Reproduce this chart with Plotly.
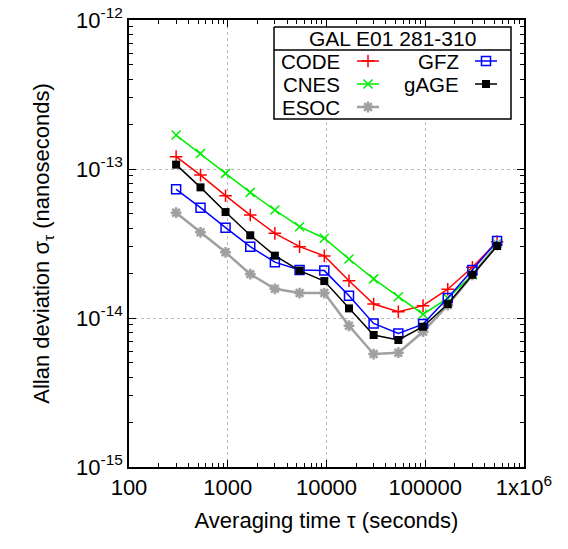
import plotly.graph_objects as go

# ---- data ----
tau = [300, 530, 950, 1690, 3000, 5340, 9500, 16900, 30000, 53400, 95000, 169000, 300000, 534000]
code = [1.21e-13, 9.1e-14, 6.62e-14, 4.91e-14, 3.7e-14, 3.01e-14, 2.61e-14, 1.78e-14, 1.24e-14, 1.10e-14, 1.21e-14, 1.56e-14, 2.19e-14, 3.25e-14]
cnes = [1.69e-13, 1.27e-13, 9.35e-14, 6.97e-14, 5.3e-14, 4.1e-14, 3.43e-14, 2.49e-14, 1.83e-14, 1.39e-14, 1.06e-14, 1.36e-14, 1.95e-14, 3.16e-14]
esoc = [5.09e-14, 3.76e-14, 2.76e-14, 1.97e-14, 1.57e-14, 1.47e-14, 1.47e-14, 8.87e-15, 5.73e-15, 5.85e-15, 8.09e-15, 1.22e-14, 1.95e-14, 3.10e-14]
gfz = [7.31e-14, 5.5e-14, 4.04e-14, 3.01e-14, 2.37e-14, 2.1e-14, 2.08e-14, 1.41e-14, 9.2e-15, 7.88e-15, 9.1e-15, 1.36e-14, 2.1e-14, 3.29e-14]
gage = [1.07e-13, 7.53e-14, 5.14e-14, 3.59e-14, 2.62e-14, 2.08e-14, 1.77e-14, 1.16e-14, 7.69e-15, 7.12e-15, 8.74e-15, 1.24e-14, 1.95e-14, 3.04e-14]

series_names = ["CODE", "CNES", "ESOC", "GFZ", "gAGE"]
series_values = [code, cnes, esoc, gfz, gage]

x_tick_vals = [100, 1000, 10000, 100000, 1000000]
x_tick_text = ["100", "1000", "10000", "100000", "1x10<sup>6</sup>"]
y_tick_vals = [1e-15, 1e-14, 1e-13, 1e-12]
y_tick_text = ["10<sup>-15</sup>", "10<sup>-14</sup>", "10<sup>-13</sup>", "10<sup>-12</sup>"]
legend_title = "GAL E01 281-310"

# ---- styles ----
styles = {
    "CODE": dict(color="#ff0000", symbol="cross-thin", size=9, lw=1.5, mlw=1.5),
    "CNES": dict(color="#00ee00", symbol="x-thin", size=9, lw=1.5, mlw=1.5),
    "ESOC": dict(color="#a0a0a0", symbol="asterisk-open", size=9, lw=2.5, mlw=2.5),
    "GFZ": dict(color="#0000ff", symbol="square-open", size=9, lw=1.5, mlw=1.5),
    "gAGE": dict(color="#000000", symbol="square", size=8, lw=1.5, mlw=0),
}

FONT = "Liberation Sans, Arial, Helvetica, sans-serif"
FS = 22
FS_LEG = 20.5
FS_LEG_TITLE = 21
W, H = 568, 549
L, R, T, B = 129, 44, 20, 82

fig = go.Figure()
for name, vals in zip(series_names, series_values):
    s = styles[name]
    fig.add_trace(go.Scatter(
        x=tau, y=vals, mode="lines+markers", name=name, showlegend=False,
        line=dict(color=s["color"], width=s["lw"]),
        marker=dict(symbol=s["symbol"], size=s["size"], color=s["color"],
                    line=dict(color=s["color"], width=s["mlw"])),
    ))

minor_x = [m * 10 ** e for e in range(2, 6) for m in range(2, 10)]
minor_y = [m * 10.0 ** e for e in range(-15, -12) for m in range(2, 10)]

axis_common = dict(
    type="log", showline=True, linecolor="#000000", linewidth=1.5, mirror="allticks",
    ticks="inside", ticklen=7, tickcolor="#000000", tickwidth=1,
    showgrid=True, gridcolor="#bbbbbb", griddash="dot", gridwidth=1,
    zeroline=False, tickfont=dict(family=FONT, size=FS, color="#000000"),
)

fig.update_xaxes(
    **axis_common, range=[2, 6], tickvals=x_tick_vals, ticktext=x_tick_text,
    minor=dict(tickvals=minor_x, ticks="inside", ticklen=4, tickcolor="#000000", showgrid=False),
    title=dict(text="Averaging time τ (seconds)", font=dict(family=FONT, size=FS, color="#000000"), standoff=13),
)
fig.update_yaxes(
    **axis_common, range=[-15, -12], tickvals=y_tick_vals, ticktext=y_tick_text,
    minor=dict(tickvals=minor_y, ticks="inside", ticklen=4, tickcolor="#000000", showgrid=False),
    title=dict(text="Allan deviation σ<sub>τ</sub> (nanoseconds)", font=dict(family=FONT, size=FS, color="#000000"), standoff=20),
)

# ---- custom gnuplot-style legend, laid out on a pixel-unit overlay axis ----
fig.update_layout(
    xaxis2=dict(domain=[0, 1], range=[L, W - R], visible=False, anchor="y2", overlaying="x"),
    yaxis2=dict(domain=[0, 1], range=[H - B, T], visible=False, anchor="x2", overlaying="y"),
)

def px(xp):
    return (xp - L) / (W - L - R)

def py(yp):
    return (H - B - yp) / (H - T - B)

bx0, bx1, by0, by1, bsep = 274, 511, 27, 119, 50
fig.add_trace(go.Scatter(
    x=[bx0, bx1, bx1, bx0, bx0], y=[by0, by0, by1, by1, by0], xaxis="x2", yaxis="y2",
    mode="lines", fill="toself", fillcolor="#ffffff", line=dict(color="#000000", width=1.5),
    showlegend=False, hoverinfo="skip",
))
fig.add_trace(go.Scatter(
    x=[bx0, bx1], y=[bsep, bsep], xaxis="x2", yaxis="y2", mode="lines",
    line=dict(color="#000000", width=1.5), showlegend=False, hoverinfo="skip",
))
fig.add_annotation(x=px(392), y=py(38), xref="paper", yref="paper", text=legend_title,
                   showarrow=False, xanchor="center", yanchor="middle",
                   font=dict(family=FONT, size=FS_LEG_TITLE, color="#000000"))

# legend entry layout: (text right edge, sample x0, sample x1, row y)
entry_pos = {
    "CODE": (342, 357, 379, 61),
    "CNES": (342, 357, 379, 84),
    "ESOC": (342, 357, 379, 107),
    "GFZ": (461, 475, 497, 61),
    "gAGE": (461, 475, 497, 84),
}
for name in series_names:
    s = styles[name]
    tr, sx0, sx1, ry = entry_pos[name]
    fig.add_annotation(x=px(tr), y=py(ry), xref="paper", yref="paper", text=name,
                       showarrow=False, xanchor="right", yanchor="middle",
                       font=dict(family=FONT, size=FS_LEG, color="#000000"))
    fig.add_trace(go.Scatter(
        x=[sx0, sx1], y=[ry, ry], xaxis="x2", yaxis="y2", mode="lines", showlegend=False,
        hoverinfo="skip", line=dict(color=s["color"], width=s["lw"]),
    ))
    fig.add_trace(go.Scatter(
        x=[(sx0 + sx1) / 2], y=[ry], xaxis="x2", yaxis="y2", mode="markers", showlegend=False,
        hoverinfo="skip",
        marker=dict(symbol=s["symbol"], size=s["size"], color=s["color"],
                    line=dict(color=s["color"], width=s["mlw"])),
    ))

fig.update_layout(
    width=W, height=H, margin=dict(l=L, r=R, t=T, b=B, autoexpand=False),
    paper_bgcolor="#ffffff", plot_bgcolor="#ffffff", showlegend=False,
    font=dict(family=FONT, size=FS, color="#000000"),
)

fig.write_html("out.html")
